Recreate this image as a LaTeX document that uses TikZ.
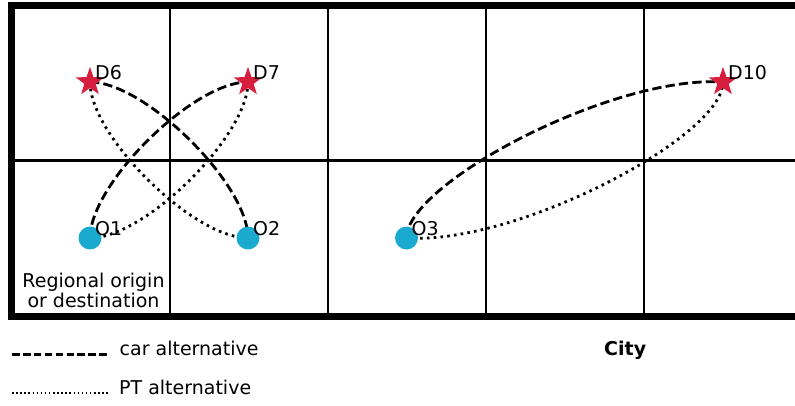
\documentclass[tikz,border=0pt]{standalone}
\usepackage{fontspec}
\setmainfont{DejaVu Sans}
\usetikzlibrary{shapes.geometric,calc}
\definecolor{starred}{RGB}{216,30,62}
\definecolor{dotcyan}{RGB}{27,170,207}
\tikzset{
  x=1pt, y=-1pt,
  gridline/.style={line width=2.2pt, black},
  frame/.style={line width=7pt, black},
  carline/.style={line width=2.8pt, dash pattern=on 9.3pt off 4.2pt},
  ptline/.style={line width=2.8pt, dash pattern=on 2.6pt off 4.2pt},
  legcar/.style={line width=2.4pt, dash pattern=on 7.6pt off 3.3pt},
  legpt/.style={line width=1.8pt, dash pattern=on 1.5pt off 2.6pt},
  dest/.style={star, star points=5, star point ratio=2.5, minimum size=30pt, inner sep=0pt, fill=starred, draw=none},
  orig/.style={circle, minimum size=23pt, inner sep=0pt, fill=dotcyan, draw=none},
  lbl/.style={anchor=base west, inner sep=0pt, font=\fontsize{19}{20}\selectfont},
}
\begin{document}
\begin{tikzpicture}
\useasboundingbox (0,0) rectangle (795,405);
% grid
\foreach \gx in {170,328,486,644} {\draw[gridline] (\gx,5) -- (\gx,316);}
\draw[gridline] (11,160.5) -- (802,160.5);
\draw[frame] (11,5) rectangle (802,316);
% points
\coordinate (O1) at (90,238);
\coordinate (O2) at (248,238);
\coordinate (O3) at (406.5,238);
\coordinate (D6) at (90,82);
\coordinate (D7) at (248,82);
\coordinate (D10) at (723,82);
% curves
\draw[carline] (O1) .. controls +(0,-54) and +(-55,0) .. (D7);
\draw[ptline] (O1) .. controls +(55,0) and +(0,54) .. (D7);
\draw[carline] (D6) .. controls +(55,0) and +(0,-54) .. (O2);
\draw[ptline] (D6) .. controls +(0,54) and +(-55,0) .. (O2);
\draw[carline] (O3) .. controls +(0,-54.6) and +(-110.8,-7) .. (D10);
\draw[ptline] (O3) .. controls +(110.8,7) and +(0,54.6) .. (D10);
% markers
\node[orig] (mO1) at (O1) {};
\node[orig] (mO2) at (O2) {};
\node[orig] (mO3) at (O3) {};
\node[dest] (mD6) at (D6) {};
\node[dest] (mD7) at (D7) {};
\node[dest] (mD10) at (D10) {};
% labels
\node[lbl] (lO1) at ([xshift=5pt,yshift=3pt]O1) {O1};
\node[lbl] (lO2) at ([xshift=5pt,yshift=3pt]O2) {O2};
\node[lbl] (lO3) at ([xshift=5pt,yshift=3pt]O3) {O3};
\node[lbl] (lD6) at ([xshift=5pt,yshift=3pt]D6) {D6};
\node[lbl] (lD7) at ([xshift=5pt,yshift=3pt]D7) {D7};
\node[lbl] (lD10) at ([xshift=5pt,yshift=3pt]D10) {D10};
\node[lbl, anchor=base] (reg1) at (93.5,287) {Regional origin};
\node[lbl, anchor=base] (reg2) at (93.5,307) {or destination};
% legend
\coordinate (cs) at (12,354.5);
\coordinate (ce) at (110,354.5);
\coordinate (ps) at (12,393);
\coordinate (pe) at (110,393);
\draw[legcar] (cs) -- (ce);
\draw[legpt] (ps) -- (pe);
\node[lbl] (carlab) at (119.5,355) {car alternative};
\node[lbl] (ptlab) at (119,394) {PT alternative};
\node[lbl, font=\fontsize{19}{20}\selectfont\bfseries] (city) at (604,355) {City};
\end{tikzpicture}
\end{document}
